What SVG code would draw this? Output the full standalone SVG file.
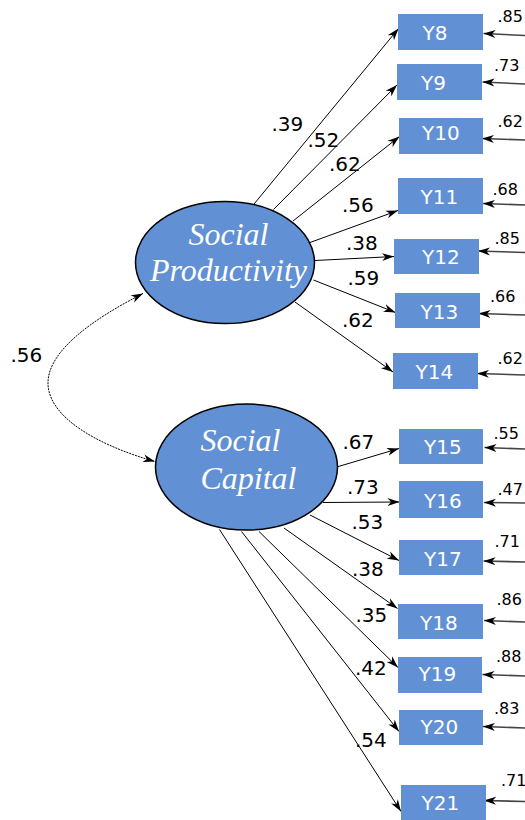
<svg xmlns="http://www.w3.org/2000/svg" width="525" height="820" viewBox="0 0 525 820">
<style>
.box{fill:#6290d5}
.bt{font-family:"DejaVu Sans",sans-serif;font-size:20px;fill:#fff}
.lat{fill:#6290d5;stroke:#000;stroke-width:1.5}
.lt{font-family:"Liberation Serif",serif;font-style:italic;font-size:32px;fill:#fff;text-anchor:middle}
.pl{font-family:"DejaVu Sans",sans-serif;font-size:20px;fill:#000}
.el{font-family:"DejaVu Sans",sans-serif;font-size:16px;fill:#000}
.path{stroke:#000;stroke-width:1;fill:none;marker-end:url(#ah)}
.err{stroke:#444;stroke-width:1.6;fill:none;marker-end:url(#ah)}
.cov{stroke:#000;stroke-width:1;fill:none;stroke-dasharray:2,1;marker-start:url(#ahs);marker-end:url(#ah)}
</style>
<defs>
<marker id="ah" markerUnits="userSpaceOnUse" markerWidth="13" markerHeight="9" refX="12" refY="4.5" orient="auto" viewBox="0 0 13 9"><path d="M0,0.5 L12,4.5 L0,8.5 L3.5,4.5 z" fill="#000"/></marker>
<marker id="ahs" markerUnits="userSpaceOnUse" markerWidth="13" markerHeight="9" refX="1" refY="4.5" orient="auto" viewBox="0 0 13 9"><path d="M13,0.5 L1,4.5 L13,8.5 L9.5,4.5 z" fill="#000"/></marker>
</defs>
<g id="connectors">
<path class="cov" d="M143,293.5 C95,318 48,350 48,383 C48,418 100,446 155,461.5"/>
<line class="path" x1="252" y1="206.5" x2="398.5" y2="28.5"/>
<line class="path" x1="273.5" y1="209.5" x2="397" y2="85"/>
<line class="path" x1="293" y1="221" x2="399.5" y2="136.5"/>
<line class="path" x1="310" y1="242.5" x2="398" y2="210.5"/>
<line class="path" x1="315" y1="260.5" x2="394" y2="256.5"/>
<line class="path" x1="313.5" y1="280" x2="395.5" y2="312.5"/>
<line class="path" x1="295" y1="302" x2="393" y2="372"/>
<line class="path" x1="335" y1="467.5" x2="399" y2="448.5"/>
<line class="path" x1="323" y1="502.5" x2="399.5" y2="502"/>
<line class="path" x1="310" y1="515" x2="399" y2="560.5"/>
<line class="path" x1="284" y1="528" x2="397.5" y2="608.5"/>
<line class="path" x1="259" y1="531.5" x2="398" y2="667.5"/>
<line class="path" x1="241.5" y1="531.5" x2="399" y2="731.5"/>
<line class="path" x1="219.5" y1="529.5" x2="401" y2="811.5"/>
<line class="err" x1="525" y1="35.5" x2="483.5" y2="33.5"/>
<line class="err" x1="525" y1="84" x2="482.5" y2="82"/>
<line class="err" x1="525" y1="140" x2="482" y2="138.5"/>
<line class="err" x1="525" y1="205" x2="483" y2="203.5"/>
<line class="err" x1="525" y1="252.5" x2="478" y2="251"/>
<line class="err" x1="525" y1="315" x2="478.5" y2="313.5"/>
<line class="err" x1="525" y1="375" x2="477" y2="373.5"/>
<line class="err" x1="525" y1="449" x2="484.5" y2="447.5"/>
<line class="err" x1="525" y1="503" x2="484" y2="502.5"/>
<line class="err" x1="525" y1="562" x2="483.5" y2="561"/>
<line class="err" x1="525" y1="622" x2="484" y2="620.5"/>
<line class="err" x1="525" y1="676" x2="482.5" y2="674.5"/>
<line class="err" x1="525" y1="728" x2="483" y2="726.5"/>
<line class="err" x1="525" y1="801.5" x2="484" y2="800.5"/>
</g>
<g id="labels">
<text class="pl" x="10.5" y="361.5">.56</text>
<text class="pl" x="271.5" y="131">.39</text>
<text class="pl" x="307.5" y="146.5">.52</text>
<text class="pl" x="329" y="170.5">.62</text>
<text class="pl" x="342" y="211.5">.56</text>
<text class="pl" x="346" y="249.5">.38</text>
<text class="pl" x="347.5" y="285">.59</text>
<text class="pl" x="342" y="326.5">.62</text>
<text class="pl" x="342.5" y="448.5">.67</text>
<text class="pl" x="347" y="493.5">.73</text>
<text class="pl" x="351.5" y="528.5">.53</text>
<text class="pl" x="352" y="576">.38</text>
<text class="pl" x="355.5" y="622">.35</text>
<text class="pl" x="355" y="675">.42</text>
<text class="pl" x="355" y="746.5">.54</text>
<text class="el" x="497.5" y="21.5">.85</text>
<text class="el" x="494" y="71">.73</text>
<text class="el" x="497.5" y="127">.62</text>
<text class="el" x="492.5" y="195">.68</text>
<text class="el" x="494.5" y="243.5">.85</text>
<text class="el" x="490" y="301.5">.66</text>
<text class="el" x="497.5" y="364">.62</text>
<text class="el" x="493.5" y="438.5">.55</text>
<text class="el" x="497.5" y="494.5">.47</text>
<text class="el" x="494.5" y="547">.71</text>
<text class="el" x="496.5" y="604.5">.86</text>
<text class="el" x="496" y="661.5">.88</text>
<text class="el" x="494" y="713.5">.83</text>
<text class="el" x="501" y="785.5">.71</text>
</g>
<g id="SocialProductivity">
<ellipse class="lat" cx="225" cy="262.5" rx="89.5" ry="61"/>
<text class="lt" x="228.5" y="244.5">Social</text>
<text class="lt" x="228.5" y="280.5">Productivity</text>
</g>
<g id="SocialCapital">
<ellipse class="lat" cx="246.5" cy="467" rx="91" ry="63"/>
<text class="lt" x="240.5" y="451">Social</text>
<text class="lt" x="248.5" y="489">Capital</text>
</g>
<g id="Y8"><rect class="box" x="398" y="14" width="85" height="36"/><text class="bt" x="422.5" y="40">Y8</text></g>
<g id="Y9"><rect class="box" x="397" y="64" width="85" height="36"/><text class="bt" x="421" y="89.5">Y9</text></g>
<g id="Y10"><rect class="box" x="399" y="118" width="84" height="36"/><text class="bt" x="422" y="140">Y10</text></g>
<g id="Y11"><rect class="box" x="398" y="178" width="85" height="36"/><text class="bt" x="420.5" y="203.5">Y11</text></g>
<g id="Y12"><rect class="box" x="394" y="239" width="85" height="35"/><text class="bt" x="422" y="263.5">Y12</text></g>
<g id="Y13"><rect class="box" x="395" y="293" width="85" height="35"/><text class="bt" x="420.5" y="318.5">Y13</text></g>
<g id="Y14"><rect class="box" x="393" y="353" width="85" height="36"/><text class="bt" x="415.5" y="378.5">Y14</text></g>
<g id="Y15"><rect class="box" x="399" y="429" width="84" height="35"/><text class="bt" x="424" y="453.5">Y15</text></g>
<g id="Y16"><rect class="box" x="399" y="481" width="84" height="37"/><text class="bt" x="424" y="507.5">Y16</text></g>
<g id="Y17"><rect class="box" x="399" y="540" width="84" height="35"/><text class="bt" x="424" y="566">Y17</text></g>
<g id="Y18"><rect class="box" x="398" y="604" width="85" height="35"/><text class="bt" x="420" y="629.5">Y18</text></g>
<g id="Y19"><rect class="box" x="398" y="657" width="84" height="36"/><text class="bt" x="418.5" y="681">Y19</text></g>
<g id="Y20"><rect class="box" x="399" y="710" width="84" height="35"/><text class="bt" x="420.5" y="734">Y20</text></g>
<g id="Y21"><rect class="box" x="401" y="785" width="85" height="35"/><text class="bt" x="421.5" y="809.5">Y21</text></g>
</svg>
